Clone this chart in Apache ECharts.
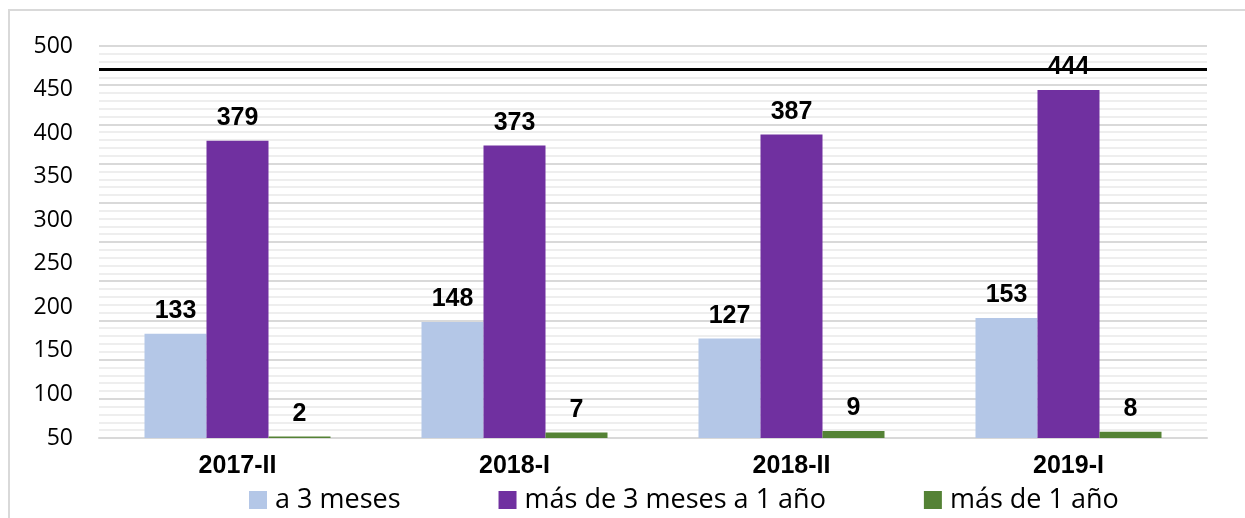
<!DOCTYPE html>
<html>
<head>
<meta charset="utf-8">
<script src="https://cdn.jsdelivr.net/npm/echarts@6/dist/echarts.min.js"></script>
<style>
  html, body { margin: 0; padding: 0; background: #fff; }
  #main { width: 1245px; height: 518px; }
</style>
</head>
<body>
<div id="main"></div>
<script>
// datos del gráfico
var periodos = ["2017-II", "2018-I", "2018-II", "2019-I"];
var aTresMeses = [133, 148, 127, 153];
var masTresMesesUnAnio = [379, 373, 387, 444];
var masUnAnio = [2, 7, 9, 8];
var nombres = ["a 3 meses", "más de 3 meses a 1 año", "más de 1 año"];
// etiquetas del eje y (tal como aparecen en la imagen)
var yEtiquetaMin = 50, yEtiquetaMax = 500, yEtiquetaPaso = 50;
var lineaRef = 470;

var myChart = echarts.init(document.getElementById("main"));

var etiqueta = {
  show: true,
  position: "top",
  distance: 10,
  color: "#000",
  fontFamily: "Liberation Sans",
  fontWeight: "bold",
  fontSize: 25
};

var option = {
  animation: false,
  graphic: [
    {
      type: "rect",
      shape: { x: 9, y: 10, width: 1250, height: 520 },
      style: { fill: "none", stroke: "#d9d9d9", lineWidth: 2 },
      silent: true
    }
  ],
  grid: { left: 99, right: 38, top: 46, bottom: 80 },
  legend: {
    data: nombres,
    left: 244,
    top: 480,
    icon: "rect",
    itemWidth: 18,
    itemHeight: 18,
    itemGap: 98,
    textStyle: {
      fontFamily: "Open Sans",
      fontSize: 27,
      color: "#000",
      lineHeight: 30,
      padding: [0, 0, 0, 3]
    }
  },
  xAxis: {
    type: "category",
    data: periodos,
    axisTick: { show: false },
    axisLine: { lineStyle: { color: "#d9d9d9", width: 2 } },
    axisLabel: {
      margin: 16,
      color: "#000",
      fontFamily: "Liberation Sans",
      fontWeight: "bold",
      fontSize: 25
    }
  },
  yAxis: [
    {
      // escala de las barras
      type: "value",
      min: 0,
      max: 500,
      interval: 50,
      axisLabel: { show: false },
      axisLine: { show: false },
      axisTick: { show: false },
      splitLine: { lineStyle: { color: "#d9d9d9", width: 2 } },
      minorTick: { show: false, splitNumber: 5 },
      minorSplitLine: { show: true, lineStyle: { color: "#eeeeee", width: 2 } }
    },
    {
      // solo etiquetas
      type: "value",
      position: "left",
      min: yEtiquetaMin,
      max: yEtiquetaMax,
      interval: yEtiquetaPaso,
      axisLine: { show: false },
      axisTick: { show: false },
      splitLine: { show: false },
      axisLabel: {
        margin: 26,
        color: "#000",
        fontFamily: "Open Sans",
        fontSize: 23
      }
    }
  ],
  series: [
    {
      name: nombres[0],
      type: "bar",
      yAxisIndex: 0,
      data: aTresMeses,
      barWidth: 62,
      barGap: "0%",
      itemStyle: { color: "#b4c7e7" },
      label: etiqueta,
      markLine: {
        silent: true,
        symbol: "none",
        label: { show: false },
        lineStyle: { color: "#000", width: 3, type: "solid" },
        data: [{ yAxis: lineaRef }]
      }
    },
    {
      name: nombres[1],
      type: "bar",
      yAxisIndex: 0,
      data: masTresMesesUnAnio,
      barWidth: 62,
      barGap: "0%",
      itemStyle: { color: "#7030a0" },
      label: etiqueta
    },
    {
      name: nombres[2],
      type: "bar",
      yAxisIndex: 0,
      data: masUnAnio,
      barWidth: 62,
      barGap: "0%",
      itemStyle: { color: "#548235" },
      label: etiqueta
    }
  ]
};

myChart.setOption(option);
</script>
</body>
</html>
